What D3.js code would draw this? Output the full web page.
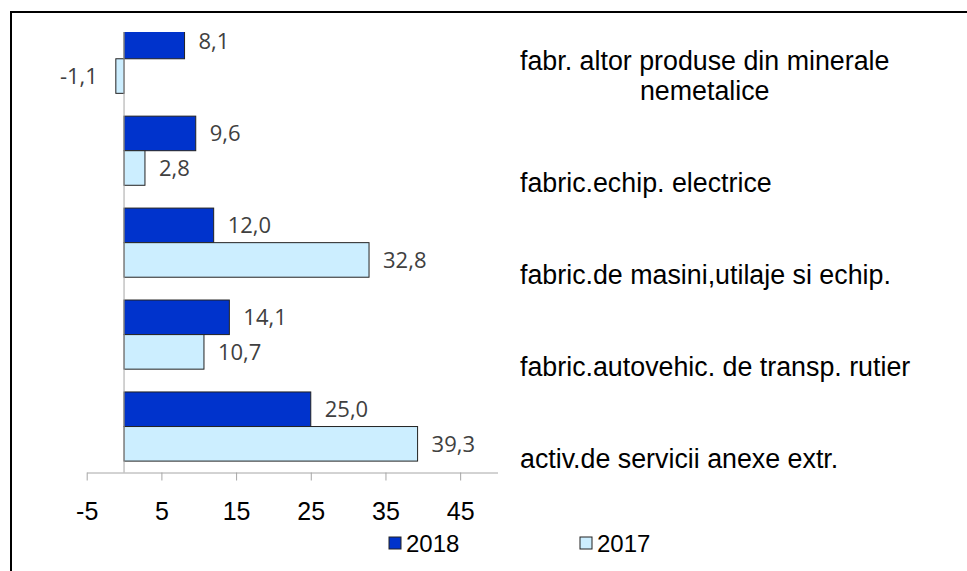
<!DOCTYPE html>
<html>
<head>
<meta charset="utf-8">
<script src="https://cdn.jsdelivr.net/npm/d3@7"></script>
<style>
  body { margin: 0; background: #fff; }
  svg { display: block; }
</style>
</head>
<body>
<div id="chart"></div>
<script>
// categories, top to bottom
var categories = [
  "fabr. altor produse din minerale|nemetalice",
  "fabric.echip. electrice",
  "fabric.de masini,utilaje si echip.",
  "fabric.autovehic. de transp. rutier",
  "activ.de servicii anexe extr."
];
var values2018 = [8.1, 9.6, 12.0, 14.1, 25.0];
var values2017 = [-1.1, 2.8, 32.8, 10.7, 39.3];
var xTicks = [-5, 5, 15, 25, 35, 45];
var seriesNames = ["2018", "2017"];
var seriesColors = ["#0033cc", "#cceeff"];

var W = 967, H = 571;
var svg = d3.select("#chart").append("svg")
    .attr("width", W)
    .attr("height", H);

// frame (only top and left edges visible)
svg.append("line").attr("x1", 11).attr("x2", W).attr("y1", 12).attr("y2", 12)
    .attr("stroke", "#000").attr("stroke-width", 2);
svg.append("line").attr("x1", 11).attr("x2", 11).attr("y1", 11).attr("y2", H)
    .attr("stroke", "#000").attr("stroke-width", 2);

var x = d3.scaleLinear()
    .domain([-5, 50])
    .range([86.7, 497.5]);

var y = d3.scaleBand()
    .domain(d3.range(categories.length))
    .range([12.8, 472.5])
    .paddingInner(0.248)
    .paddingOuter(0.124);

var plotTop = 32;

svg.append("clipPath").attr("id", "plotclip")
  .append("rect")
    .attr("x", 0).attr("y", plotTop)
    .attr("width", W).attr("height", 472.5 - plotTop);

var rows = categories.map(function(c, i) {
  return {i: i, vals: [values2018[i], values2017[i]]};
});

var bh = y.bandwidth() / 2;

var bars = svg.append("g").attr("clip-path", "url(#plotclip)");
rows.forEach(function(r) {
  r.vals.forEach(function(v, s) {
    bars.append("rect")
      .attr("x", x(Math.min(0, v)))
      .attr("y", y(r.i) + s * bh)
      .attr("width", Math.abs(x(v) - x(0)))
      .attr("height", bh)
      .attr("fill", seriesColors[s])
      .attr("stroke", "#222")
      .attr("stroke-width", 1);
  });
});

// value labels (comma decimals, plain hyphen for minus)
var fmt = function(v) { return v.toFixed(1).replace(".", ","); };
rows.forEach(function(r) {
  r.vals.forEach(function(v, s) {
    var neg = v < 0;
    svg.append("text")
      .attr("x", neg ? x(v) - 18 : x(v) + 14)
      .attr("y", y(r.i) + s * bh + bh / 2)
      .attr("dy", "0.36em")
      .attr("text-anchor", neg ? "end" : "start")
      .attr("font-family", "'Open Sans', sans-serif")
      .attr("font-size", 22)
      .attr("fill", "#404040")
      .text(fmt(v));
  });
});

// vertical axis line at 0
svg.append("line")
    .attr("x1", x(0)).attr("x2", x(0))
    .attr("y1", plotTop).attr("y2", 472.5)
    .attr("stroke", "#a6a6a6").attr("stroke-width", 1);

// x axis
var xAxis = svg.append("g")
    .attr("transform", "translate(0,472.5)")
    .call(d3.axisBottom(x).tickValues(xTicks).tickSize(8).tickSizeOuter(0)
      .tickPadding(22).tickFormat(function(d) { return String(d); }));
xAxis.select(".domain").attr("stroke", "#a6a6a6");
xAxis.selectAll(".tick line").attr("stroke", "#a6a6a6");
xAxis.selectAll(".tick text")
    .attr("font-family", "'Liberation Sans', Arial, sans-serif")
    .attr("font-size", 25)
    .attr("fill", "#000");

// category labels on the right
rows.forEach(function(r) {
  var lines = categories[r.i].split("|");
  var baseY = y(r.i) + y.bandwidth() / 2 + 32;
  var t = svg.append("text")
      .attr("font-family", "'Liberation Sans', Arial, sans-serif")
      .attr("font-size", 26.8)
      .attr("fill", "#000");
  if (lines.length > 1) {
    var cx = 520;
    lines.forEach(function(l, k) {
      t.append("tspan")
        .attr("y", baseY - (lines.length - 1 - k) * 30)
        .attr("dy", "0.35em")
        .text(l);
    });
    // center the lines on the first line width
    var w0 = t.select("tspan").node().getComputedTextLength();
    t.selectAll("tspan")
      .attr("x", cx + w0 / 2)
      .attr("text-anchor", "middle");
  } else {
    t.attr("x", 520).attr("y", baseY).attr("dy", "0.35em").text(lines[0]);
  }
});

// legend
var legendX = [389, 580];
seriesNames.forEach(function(n, s) {
  var g = svg.append("g").attr("transform", "translate(" + legendX[s] + ",543)");
  g.append("rect")
    .attr("x", 0).attr("y", -6)
    .attr("width", 12).attr("height", 12)
    .attr("fill", seriesColors[s])
    .attr("stroke", "#222");
  g.append("text")
    .attr("x", 17)
    .attr("dy", "0.36em")
    .attr("font-family", "'Liberation Sans', Arial, sans-serif")
    .attr("font-size", 24)
    .attr("fill", "#000")
    .text(n);
});
</script>
</body>
</html>
